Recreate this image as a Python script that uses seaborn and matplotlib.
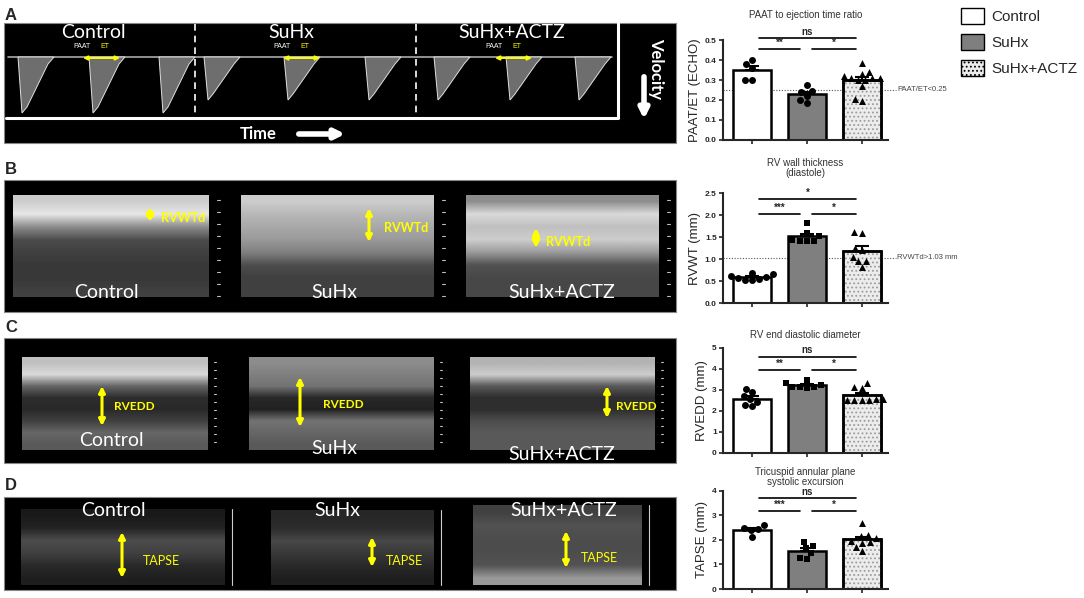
import numpy as np
import pandas as pd
import seaborn as sns
import matplotlib.pyplot as plt
from matplotlib.patches import Rectangle, Patch, Polygon

groups = ["Control", "SuHx", "SuHx+ACTZ"]
bar_colors = ["white", "#7f7f7f", "#ececec"]

# A - PAAT to ejection time ratio
paat_ctrl = [0.38, 0.40, 0.36, 0.30, 0.30]
paat_suhx = [0.275, 0.245, 0.24, 0.22, 0.20, 0.185]
paat_actz = [0.385, 0.34, 0.33, 0.32, 0.31, 0.31, 0.30, 0.30, 0.31, 0.27, 0.195, 0.205]

# B - RV wall thickness (diastole)
rvwt_ctrl = [0.68, 0.65, 0.60, 0.57, 0.55, 0.52, 0.53, 0.62]
rvwt_suhx = [1.81, 1.60, 1.53, 1.42, 1.42, 1.42, 1.44]
rvwt_actz = [1.62, 1.60, 1.25, 1.20, 1.05, 0.95, 0.95, 0.81]

# C - RV end diastolic diameter
rvedd_ctrl = [3.04, 2.88, 2.70, 2.55, 2.45, 2.28, 2.22]
rvedd_suhx = [3.48, 3.32, 3.22, 3.15, 3.12, 3.12, 3.10]
rvedd_actz = [3.32, 3.12, 3.08, 2.55, 2.50, 2.50, 2.50, 2.52, 2.55]

# D - TAPSE
tapse_ctrl = [2.60, 2.50, 2.45, 2.40, 2.12]
tapse_suhx = [1.93, 1.76, 1.66, 1.47, 1.27, 1.24]
tapse_actz = [2.71, 2.22, 2.15, 2.08, 1.95, 1.93, 1.87, 1.73, 1.55]

sns.set_style("ticks")
plt.rcParams["font.family"] = ["Liberation Sans", "DejaVu Sans"]
plt.rcParams["hatch.color"] = "#9c9c9c"
plt.rcParams["hatch.linewidth"] = 0.8

fig = plt.figure(figsize=(10.84, 5.98), dpi=100)

# ---------- left side: echo image panels (drawn in pixel coords) ----------
bg = fig.add_axes([0, 0, 1, 1])
bg.set_xlim(0, 1084)
bg.set_ylim(598, 0)
bg.axis("off")

LAB = dict(color="white", fontsize=14, family=["Lato", "DejaVu Sans"], ha="center", va="center")
YEL = dict(color="yellow", family=["Lato", "DejaVu Sans"], ha="left", va="center")


def darrow(x0, y0, x1, y1, lw=2.2, ms=9):
    bg.annotate("", xy=(x1, y1), xytext=(x0, y0),
                arrowprops=dict(arrowstyle="<|-|>", color="yellow", lw=lw,
                                mutation_scale=ms, shrinkA=0, shrinkB=0))


def gimage(x0, x1, y0, y1, tones):
    col = np.array(tones).reshape(-1, 1)
    bg.imshow(col, cmap="gray", vmin=0, vmax=1, aspect="auto",
              interpolation="bilinear", extent=(x0, x1, y1, y0), zorder=1)


for letter, y in zip("ABCD", [15, 170, 328, 485]):
    bg.text(5, y, letter, fontsize=12, fontweight="bold", va="center", ha="left")

# A: Doppler
bg.add_patch(Rectangle((4, 23), 672, 120, facecolor="black", edgecolor="#888", lw=0.8))
bg.plot([6, 618, 618], [118, 118, 23], color="white", lw=2.2)
for xd in [195, 416]:
    bg.plot([xd, xd], [24, 117], color="white", lw=1.2, ls=(0, (4, 3)))
bg.plot([8, 612], [57, 57], color="#aaaaaa", lw=1.2)
beats = [(22, 113), (93, 113), (163, 113), (208, 100), (288, 100), (369, 100),
         (438, 100), (510, 100), (579, 100)]
for xb, yb in beats:
    bg.add_patch(Polygon([(xb - 4, 57), (xb, yb), (xb + 5, yb - 6), (xb + 26, 64), (xb + 32, 57)],
                         closed=True, facecolor="#6e6e6e", edgecolor="#e0e0e0", lw=0.7, zorder=2))
for xc, txt in zip([93, 291, 512], groups):
    bg.text(xc, 33, txt, **LAB)
for xp in [82, 282, 494]:
    bg.text(xp, 47, "PAAT", color="white", fontsize=5, ha="center", va="center")
    bg.text(xp + 23, 47, "ET", color="yellow", fontsize=5, ha="center", va="center")
    darrow(xp + 1, 58, xp + 38, 58, lw=1.4, ms=6)
bg.text(258, 134, "Time", color="white", fontsize=12, fontweight="bold", ha="center", va="center",
        family=["Lato", "DejaVu Sans"])
bg.annotate("", xy=(348, 134), xytext=(296, 134),
            arrowprops=dict(arrowstyle="-|>", color="white", lw=4, mutation_scale=14))
bg.text(656, 68, "Velocity", color="white", fontsize=12, fontweight="bold", rotation=-90,
        ha="center", va="center", family=["Lato", "DejaVu Sans"])
bg.annotate("", xy=(644, 122), xytext=(644, 74),
            arrowprops=dict(arrowstyle="-|>", color="white", lw=4, mutation_scale=14))

# B: RV wall thickness M-mode
bg.add_patch(Rectangle((4, 180), 672, 132, facecolor="black", edgecolor="#888", lw=0.8))
b_imgs = [(13, 209, [0.8, 0.9, 0.55, 0.3, 0.25, 0.22, 0.22, 0.25]),
          (241, 434, [0.8, 0.72, 0.66, 0.6, 0.5, 0.3, 0.25, 0.25]),
          (466, 659, [0.55, 0.85, 0.75, 0.8, 0.6, 0.32, 0.28, 0.28])]
for x0, x1, tones in b_imgs:
    gimage(x0, x1, 195, 297, tones)
    for yt in range(200, 300, 12):
        bg.plot([x1 + 8, x1 + 11], [yt, yt], color="#bbbbbb", lw=0.8)
for xc, txt in zip([106, 334, 562], groups):
    bg.text(xc, 293, txt, zorder=5, **LAB)
darrow(150, 207, 150, 222, ms=10)
bg.text(161, 218, "RVWTd", fontsize=9, fontweight="bold", zorder=5, **YEL)
darrow(369, 208, 369, 242)
bg.text(384, 228, "RVWTd", fontsize=9, fontweight="bold", zorder=5, **YEL)
darrow(536, 228, 536, 248, ms=10)
bg.text(546, 242, "RVWTd", fontsize=9, fontweight="bold", zorder=5, **YEL)

# C: RVEDD M-mode
bg.add_patch(Rectangle((4, 338), 672, 125, facecolor="black", edgecolor="#888", lw=0.8))
c_imgs = [(22, 208, [0.75, 0.85, 0.4, 0.18, 0.16, 0.25, 0.4, 0.35]),
          (249, 434, [0.55, 0.5, 0.45, 0.16, 0.13, 0.45, 0.4, 0.35]),
          (470, 655, [0.7, 0.8, 0.35, 0.18, 0.18, 0.3, 0.35, 0.35])]
for x0, x1, tones in c_imgs:
    gimage(x0, x1, 357, 450, tones)
    for yt in range(362, 450, 8):
        bg.plot([x1 + 6, x1 + 8], [yt, yt], color="#bbbbbb", lw=0.8)
for xc, yc, txt in zip([111, 334, 562], [441, 449, 455], groups):
    bg.text(xc, yc, txt, zorder=5, **LAB)
darrow(102, 386, 102, 426)
bg.text(114, 406, "RVEDD", fontsize=8.5, fontweight="bold", zorder=5, **YEL)
darrow(300, 377, 300, 427)
bg.text(323, 404, "RVEDD", fontsize=8.5, fontweight="bold", zorder=5, **YEL)
darrow(607, 386, 607, 418)
bg.text(616, 406, "RVEDD", fontsize=8.5, fontweight="bold", zorder=5, **YEL)

# D: TAPSE M-mode
bg.add_patch(Rectangle((4, 497), 672, 93, facecolor="black", edgecolor="#888", lw=0.8))
d_imgs = [(21, 225, 509, [0.1, 0.14, 0.3, 0.25, 0.16, 0.12]),
          (271, 434, 510, [0.15, 0.18, 0.28, 0.22, 0.16, 0.12]),
          (473, 642, 505, [0.25, 0.32, 0.3, 0.3, 0.32, 0.6])]
for x0, x1, y0, tones in d_imgs:
    gimage(x0, x1, y0, 585, tones)
    bg.plot([x1 + 7, x1 + 7], [y0, 585], color="#cccccc", lw=0.8)
for xc, txt in zip([113, 337, 564], groups):
    bg.text(xc, 511, txt, zorder=5, **LAB)
darrow(122, 532, 122, 578)
bg.text(143, 561, "TAPSE", fontsize=9, zorder=5, **YEL)
darrow(372, 537, 372, 567)
bg.text(386, 561, "TAPSE", fontsize=9, zorder=5, **YEL)
darrow(566, 531, 566, 568)
bg.text(581, 558, "TAPSE", fontsize=9, zorder=5, **YEL)


# ---------- right side: bar charts ----------
def bar_panel(rect, values, suhx_marker, ylim, yticks, ticklabels, ylab, title, title_y,
              sig, thr=None, thr_label=None):
    ax = fig.add_axes(rect)
    df = pd.DataFrame({"group": np.repeat(groups, [len(v) for v in values]),
                       "value": np.concatenate(values)})
    sns.barplot(data=df, x="group", y="value", order=groups, hue="group", hue_order=groups,
                palette=bar_colors, errorbar=None, width=0.7, edgecolor="black",
                linewidth=1.8, legend=False, ax=ax, zorder=2)
    b = ax.patches[2]
    ax.add_patch(Rectangle(b.get_xy(), b.get_width(), b.get_height(), facecolor="none",
                           edgecolor="#9c9c9c", hatch="....", lw=0, zorder=2.1))
    ax.add_patch(Rectangle(b.get_xy(), b.get_width(), b.get_height(), facecolor="none",
                           edgecolor="black", lw=1.8, zorder=2.2))
    stats = df.groupby("group")["value"].agg(["mean", "sem"]).reindex(groups)
    ax.errorbar(range(3), stats["mean"], yerr=[np.zeros(3), stats["sem"]], fmt="none",
                ecolor="black", elinewidth=1.5, capsize=5, capthick=1.5, zorder=3)
    for g, m in zip(groups, ["o", suhx_marker, "^"]):
        sns.swarmplot(data=df[df["group"] == g], x="group", y="value", order=groups,
                      marker=m, color="black", size=5, ax=ax, zorder=4)
    if thr is not None:
        ax.plot([-0.53, 2.62], [thr, thr], ls=(0, (1, 1.5)), color="#555555", lw=0.8,
                clip_on=False, zorder=1)
        ax.text(2.65, thr, thr_label, fontsize=5.5, color="#444444", va="center", ha="left")
    top = ylim[1]
    for x0, x1, y, lab in sig:
        ax.plot([x0, x1], [y, y], color="black", lw=1.2, clip_on=False)
        ax.text((x0 + x1) / 2, y + top * 0.015, lab, ha="center", va="bottom",
                fontsize=7, fontweight="bold")
    ax.set_xlim(-0.53, 2.48)
    ax.set_ylim(*ylim)
    ax.set_yticks(yticks)
    ax.set_yticklabels(ticklabels, fontsize=6, fontweight="bold")
    ax.set_xticks([0, 1, 2])
    ax.set_xticklabels([])
    ax.set_xlabel("")
    ax.set_ylabel(ylab, fontsize=9.5, labelpad=3)
    ax.tick_params(length=3, width=1.2, pad=1.5)
    for s in ["left", "bottom"]:
        ax.spines[s].set_linewidth(1.5)
    sns.despine(ax=ax)
    ax.text(0.5, title_y, title, transform=ax.transAxes, ha="center", va="center",
            fontsize=7, color="#333333", linespacing=1.1)
    return ax


L, W = 723 / 1084, 165 / 1084
bar_panel([L, 0.7659, W, 0.1672], [paat_ctrl, paat_suhx, paat_actz], "o",
          (0, 0.5), [0, 0.1, 0.2, 0.3, 0.4, 0.5], ["0.0", "0.1", "0.2", "0.3", "0.4", "0.5"],
          "PAAT/ET (ECHO)", "PAAT to ejection time ratio", 1.25,
          [(0.13, 1.89, 0.51, "ns"), (0.13, 0.87, 0.455, "**"), (1.09, 1.89, 0.455, "*")],
          thr=0.25, thr_label="PAAT/ET<0.25")
bar_panel([L, 0.4933, W, 0.1839], [rvwt_ctrl, rvwt_suhx, rvwt_actz], "s",
          (0, 2.5), [0, 0.5, 1.0, 1.5, 2.0, 2.5], ["0.0", "0.5", "1.0", "1.5", "2.0", "2.5"],
          "RVWT (mm)", "RV wall thickness\n(diastole)", 1.227,
          [(0.13, 1.89, 2.36, "*"), (0.13, 0.87, 2.02, "***"), (1.09, 1.89, 2.02, "*")],
          thr=1.03, thr_label="RVWTd>1.03 mm")
bar_panel([L, 0.2425, W, 0.1756], [rvedd_ctrl, rvedd_suhx, rvedd_actz], "s",
          (0, 5), [0, 1, 2, 3, 4, 5], ["0", "1", "2", "3", "4", "5"],
          "RVEDD (mm)", "RV end diastolic diameter", 1.124,
          [(0.13, 1.89, 4.57, "ns"), (0.13, 0.87, 3.95, "**"), (1.09, 1.89, 3.95, "*")])
bar_panel([L, 0.01505, W, 0.1639], [tapse_ctrl, tapse_suhx, tapse_actz], "s",
          (0, 4), [0, 1, 2, 3, 4], ["0", "1", "2", "3", "4"],
          "TAPSE (mm)", "Tricuspid annular plane\nsystolic excursion", 1.143,
          [(0.13, 1.89, 3.71, "ns"), (0.13, 0.87, 3.18, "***"), (1.09, 1.89, 3.18, "*")])

handles = [Patch(facecolor=c, edgecolor="black", lw=1.0) for c in bar_colors]
handles[2].set_hatch("....")
fig.legend(handles, groups, loc="upper left", bbox_to_anchor=(955 / 1084, 1 - 2 / 598),
           frameon=False, fontsize=11, handlelength=1.5, handleheight=1.2,
           handletextpad=0.45, labelspacing=0.65, borderaxespad=0)

fig.savefig("out.png", dpi=100)
